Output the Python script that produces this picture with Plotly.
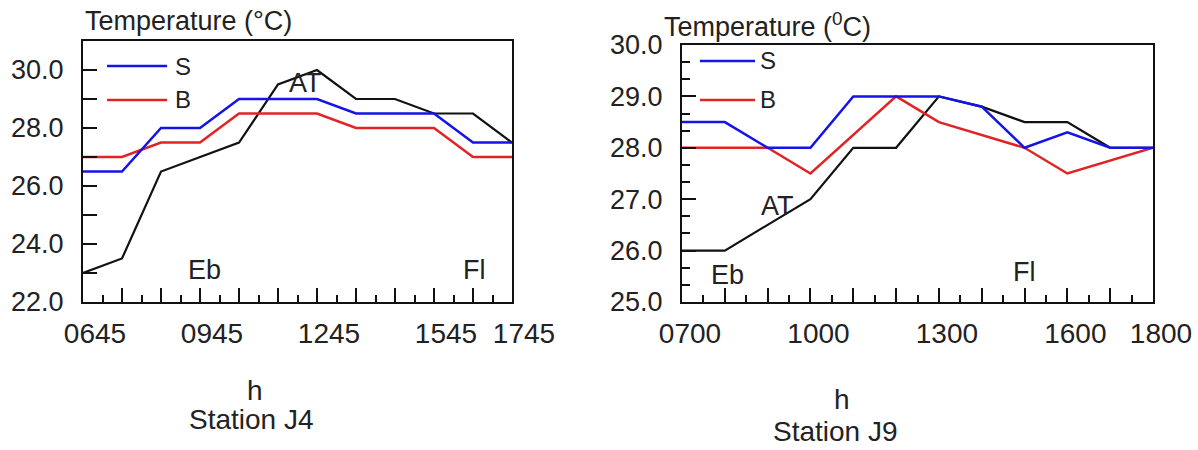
import plotly.graph_objects as go

# ---------------- data ----------------
# Station J4 (hours as decimal: 6.75 = 06:45)
j4_hours = [6.75, 7.75, 8.75, 9.75, 10.75, 11.75, 12.75, 13.75, 14.75, 15.75, 16.75, 17.75]
j4_S = [26.5, 26.5, 28.0, 28.0, 29.0, 29.0, 29.0, 28.5, 28.5, 28.5, 27.5, 27.5]
j4_B = [27.0, 27.0, 27.5, 27.5, 28.5, 28.5, 28.5, 28.0, 28.0, 28.0, 27.0, 27.0]
j4_AT = [23.0, 23.5, 26.5, 27.0, 27.5, 29.5, 30.0, 29.0, 29.0, 28.5, 28.5, 27.5]
j4_tickvals = j4_hours
j4_ticktext = ["0645", "", "", "0945", "", "", "1245", "", "", "1545", "", "1745"]

# Station J9
j9_hours = [7, 8, 9, 10, 11, 12, 13, 14, 15, 16, 17, 18]
j9_S = [28.5, 28.5, 28.0, 28.0, 29.0, 29.0, 29.0, 28.8, 28.0, 28.3, 28.0, 28.0]
j9_B = [28.0, 28.0, 28.0, 27.5, 28.25, 29.0, 28.5, 28.25, 28.0, 27.5, 27.75, 28.0]
j9_AT = [26.0, 26.0, 26.5, 27.0, 28.0, 28.0, 29.0, 28.8, 28.5, 28.5, 28.0, 28.0]
j9_tickvals = j9_hours
j9_ticktext = ["0700", "", "", "1000", "", "", "1300", "", "", "1600", "", "1800"]

BLUE = "#1414e6"
RED = "#e02424"
BLACK = "#111111"
TXT = "#222222"
FONT = "Liberation Sans, Arial, sans-serif"

fig = go.Figure()

def add_station(xs, S, B, AT, xa, ya):
    fig.add_trace(go.Scatter(x=xs, y=AT, mode="lines", line=dict(color=BLACK, width=2.2),
                             xaxis=xa, yaxis=ya, showlegend=False, name="AT"))
    fig.add_trace(go.Scatter(x=xs, y=B, mode="lines", line=dict(color=RED, width=2.5),
                             xaxis=xa, yaxis=ya, showlegend=False, name="B"))
    fig.add_trace(go.Scatter(x=xs, y=S, mode="lines", line=dict(color=BLUE, width=2.5),
                             xaxis=xa, yaxis=ya, showlegend=False, name="S"))

add_station(j4_hours, j4_S, j4_B, j4_AT, "x", "y")
add_station(j9_hours, j9_S, j9_B, j9_AT, "x2", "y2")

W, H = 1198, 450
# plot boxes in pixels
L1, R1, T1, B1 = 83, 512, 41, 302
L2, R2, T2, B2 = 682, 1153, 45, 302

axis_common = dict(showline=True, linecolor=BLACK, linewidth=2, mirror=True,
                   showgrid=False, zeroline=False, ticks="inside", tickcolor=BLACK,
                   tickwidth=1.5, automargin=False)
yfont = dict(family=FONT, size=27, color=TXT)
xfont = dict(family=FONT, size=28, color=TXT)

fig.update_layout(
    width=W, height=H, margin=dict(l=0, r=0, t=0, b=0, autoexpand=False),
    paper_bgcolor="white", plot_bgcolor="white", showlegend=False,
    font=dict(family=FONT, color=TXT),
    xaxis=dict(domain=[L1 / W, R1 / W], range=[6.75, 17.75], anchor="y",
               tickmode="array", tickvals=j4_tickvals, ticktext=j4_ticktext,
               ticklen=14, ticklabelshift=12, ticklabelstandoff=5, tickfont=xfont,
               minor=dict(tickmode="linear", tick0=6.75, dtick=0.5, ticks="inside",
                          ticklen=7, tickcolor=BLACK, tickwidth=1.5),
               **axis_common),
    yaxis=dict(domain=[1 - B1 / H, 1 - T1 / H], range=[22, 31], anchor="x",
               tickmode="array", tickvals=[22, 24, 26, 28, 30], tickformat=".1f",
               ticklen=14, ticklabelstandoff=12, tickfont=yfont,
               minor=dict(tickmode="linear", tick0=22, dtick=1, ticks="inside",
                          ticklen=14, tickcolor=BLACK, tickwidth=1.5),
               **axis_common),
    xaxis2=dict(domain=[L2 / W, R2 / W], range=[7, 18], anchor="y2",
                tickmode="array", tickvals=j9_tickvals, ticktext=j9_ticktext,
                ticklen=14, ticklabelshift=8, ticklabelstandoff=5, tickfont=xfont,
                minor=dict(tickmode="linear", tick0=7, dtick=0.5, ticks="inside",
                           ticklen=7, tickcolor=BLACK, tickwidth=1.5),
                **axis_common),
    yaxis2=dict(domain=[1 - B2 / H, 1 - T2 / H], range=[25, 30], anchor="x2",
                tickmode="array", tickvals=[25, 26, 27, 28, 29, 30], tickformat=".1f",
                ticklen=14, ticklabelstandoff=12, tickfont=yfont,
                minor=dict(tickmode="linear", tick0=25, dtick=1 / 3, ticks="inside",
                           ticklen=8, tickcolor=BLACK, tickwidth=1.5),
                **axis_common),
)

# in-plot labels
def txt(x, y, s, xr, yr, size=27):
    fig.add_annotation(x=x, y=y, xref=xr, yref=yr, text=s, showarrow=False,
                       xanchor="center", yanchor="middle",
                       font=dict(family=FONT, size=size, color=TXT))

txt(12.45, 29.55, "AT", "x", "y")
txt(9.87, 23.1, "Eb", "x", "y")
txt(16.79, 23.1, "Fl", "x", "y")
txt(9.22, 26.87, "AT", "x2", "y2")
txt(8.07, 25.53, "Eb", "x2", "y2")
txt(15.0, 25.58, "Fl", "x2", "y2")

# legend samples
def legend(xd, yd, x0, x1, y_s, y_b, xt):
    fig.add_shape(type="line", xref=xd, yref=yd, x0=x0, x1=x1, y0=y_s, y1=y_s,
                  line=dict(color=BLUE, width=2.5))
    fig.add_shape(type="line", xref=xd, yref=yd, x0=x0, x1=x1, y0=y_b, y1=y_b,
                  line=dict(color=RED, width=2.5))
    for yv, s in ((y_s, "S"), (y_b, "B")):
        fig.add_annotation(x=xt, y=yv, xref=xd, yref=yd, text=s, showarrow=False,
                           xanchor="center", yanchor="middle",
                           font=dict(family=FONT, size=24, color=TXT))

legend("x domain", "y domain", 0.056, 0.196, 0.904, 0.774, 0.233)
legend("x2 domain", "y2 domain", 0.038, 0.155, 0.938, 0.786, 0.183)

# axis titles and captions
def cap(xp, yp, s, size=27, anchor="center"):
    fig.add_annotation(x=xp / W, y=1 - yp / H, xref="paper", yref="paper", text=s,
                       showarrow=False, xanchor=anchor, yanchor="middle",
                       font=dict(family=FONT, size=size, color=TXT))

cap(83, 21, "Temperature (°C)", size=27, anchor="left")
cap(662, 25, "Temperature (<sup>0</sup>C)", size=27, anchor="left")
cap(255, 390, "h", size=28)
cap(251, 419, "Station J4", size=28)
cap(842, 399, "h", size=28)
cap(835, 431, "Station J9", size=28)

fig.write_html("out.html")
